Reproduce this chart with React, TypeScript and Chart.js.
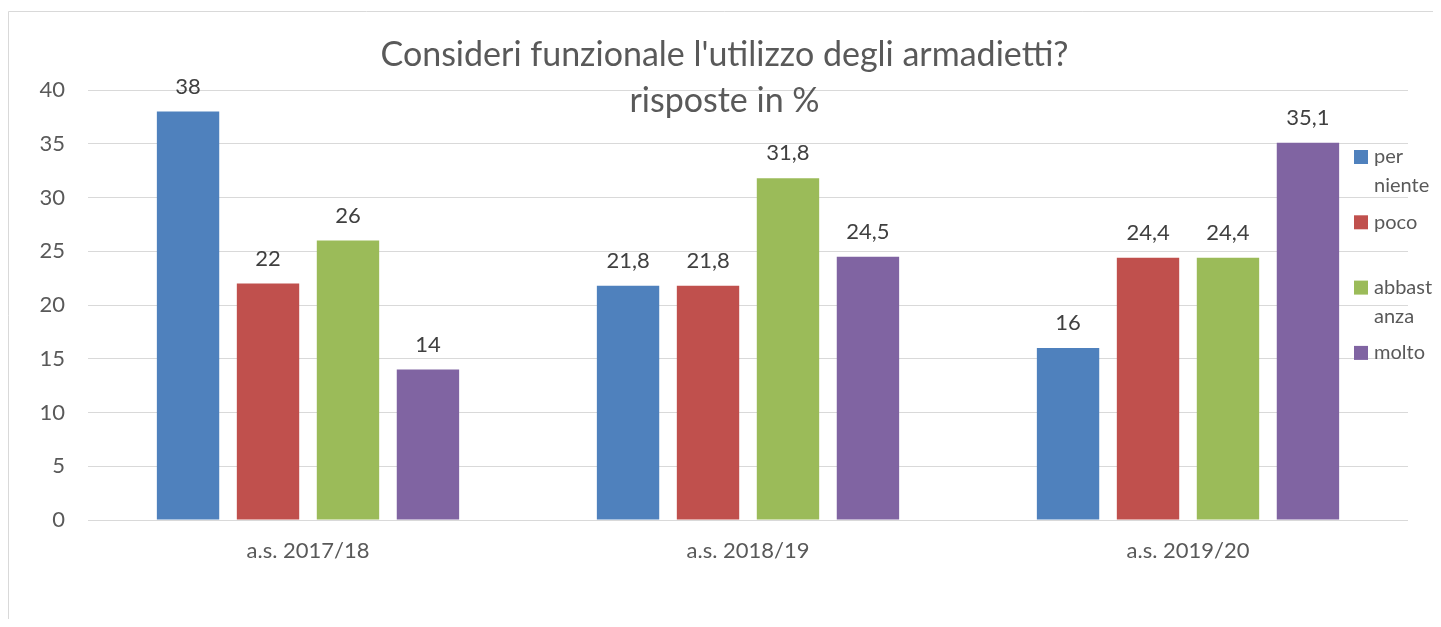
import React, { useEffect, useRef } from "react";
import { Chart, registerables } from "chart.js";

Chart.register(...registerables);

const categories = ["a.s. 2017/18", "a.s. 2018/19", "a.s. 2019/20"];
const seriesNames = ["per niente", "poco", "abbastanza", "molto"];
const perNiente = [38, 21.8, 16];
const poco = [22, 21.8, 24.4];
const abbastanza = [26, 31.8, 24.4];
const molto = [14, 24.5, 35.1];
const seriesValues = [perNiente, poco, abbastanza, molto];
const seriesColors = ["#4F81BD", "#C0504D", "#9BBB59", "#8064A2"];
const yMin = 0;
const yMax = 40;
const yStep = 5;
const titleLines = ["Consideri funzionale l'utilizzo degli armadietti?", "risposte in %"];

const FONT = "Lato, 'Open Sans', sans-serif";

function formatValue(v: number): string {
  return String(v).replace(".", ",");
}

function wrapLabel(text: string, maxChars: number): string[] {
  const words = text.split(" ");
  const lines: string[] = [];
  let cur = "";
  for (const w of words) {
    const parts: string[] = [];
    for (let i = 0; i < w.length; i += maxChars) parts.push(w.slice(i, i + maxChars));
    for (const p of parts) {
      if (cur === "") cur = p;
      else if ((cur + " " + p).length <= maxChars) cur = cur + " " + p;
      else {
        lines.push(cur);
        cur = p;
      }
    }
  }
  if (cur) lines.push(cur);
  return lines;
}

const framePlugin = {
  id: "frame",
  beforeDraw(chart: any) {
    const ctx = chart.ctx;
    ctx.save();
    ctx.fillStyle = "#ffffff";
    ctx.fillRect(0, 0, chart.width, chart.height);
    ctx.strokeStyle = "#d9d9d9";
    ctx.lineWidth = 1;
    ctx.beginPath();
    ctx.moveTo(0.5, chart.height);
    ctx.lineTo(0.5, 0.5);
    ctx.lineTo(chart.width, 0.5);
    ctx.stroke();
    ctx.restore();
  },
};

const titlePlugin = {
  id: "customTitle",
  afterDraw(chart: any) {
    const ctx = chart.ctx;
    ctx.save();
    ctx.fillStyle = "#595959";
    ctx.font = `34px ${FONT}`;
    ctx.textAlign = "center";
    ctx.textBaseline = "alphabetic";
    const cx = chart.width / 2;
    ctx.fillText(titleLines[0], cx, 55);
    ctx.fillText(titleLines[1], cx, 101);
    ctx.restore();
  },
};

const dataLabelPlugin = {
  id: "dataLabels",
  afterDatasetsDraw(chart: any) {
    const ctx = chart.ctx;
    ctx.save();
    ctx.fillStyle = "#404040";
    ctx.font = `22px ${FONT}`;
    ctx.textAlign = "center";
    ctx.textBaseline = "alphabetic";
    chart.data.datasets.forEach((ds: any, di: number) => {
      const meta = chart.getDatasetMeta(di);
      meta.data.forEach((bar: any, i: number) => {
        ctx.fillText(formatValue(ds.data[i]), bar.x, bar.y - 18);
      });
    });
    ctx.restore();
  },
};

const legendPlugin = {
  id: "customLegend",
  afterDraw(chart: any) {
    const ctx = chart.ctx;
    ctx.save();
    ctx.font = `20px ${FONT}`;
    ctx.textAlign = "left";
    ctx.textBaseline = "middle";
    const slotTop = 146;
    const slotStep = 65.3;
    const markerX = 1346;
    const textX = 1366;
    chart.data.datasets.forEach((ds: any, di: number) => {
      const y = slotTop + di * slotStep;
      ctx.fillStyle = ds.backgroundColor;
      ctx.fillRect(markerX, y - 7, 14, 14);
      ctx.fillStyle = "#595959";
      const lines = wrapLabel(ds.label, 6);
      lines.forEach((ln, li) => {
        ctx.fillText(ln, textX, y + li * 28.5);
      });
    });
    ctx.restore();
  },
};

export default function App() {
  const canvasRef = useRef<HTMLCanvasElement | null>(null);

  useEffect(() => {
    document.documentElement.style.overflow = "hidden";
    const canvas = canvasRef.current;
    if (!canvas) return;
    const chart = new Chart(canvas, {
      type: "bar",
      data: {
        labels: categories,
        datasets: seriesNames.map((name, i) => ({
          label: name,
          data: seriesValues[i],
          backgroundColor: seriesColors[i],
          borderWidth: 0,
          categoryPercentage: 0.727,
          barPercentage: 0.78,
        })),
      },
      options: {
        animation: false,
        responsive: true,
        maintainAspectRatio: false,
        layout: { padding: { left: 0, right: 33, top: 79, bottom: 49 } },
        plugins: {
          legend: { display: false },
          title: { display: false },
          tooltip: { enabled: false },
        },
        scales: {
          x: {
            grid: { display: false, drawTicks: false },
            border: { display: false },
            ticks: {
              color: "#595959",
              font: { family: FONT, size: 22 },
              padding: 18,
              maxRotation: 0,
            },
            afterFit(scale: any) {
              scale.height = 50;
            },
          },
          y: {
            min: yMin,
            max: yMax,
            grid: { color: "#d9d9d9", lineWidth: 1, drawTicks: false },
            border: { display: false },
            ticks: {
              stepSize: yStep,
              color: "#595959",
              font: { family: FONT, size: 22 },
              padding: 23,
            },
            afterFit(scale: any) {
              scale.width = 80;
            },
          },
        },
      },
      plugins: [framePlugin, dataLabelPlugin, titlePlugin, legendPlugin],
    });
    return () => chart.destroy();
  }, []);

  return (
    <div style={{ paddingTop: 3 }}>
      <div style={{ position: "relative", width: 1433, height: 608 }}>
        <canvas ref={canvasRef} />
      </div>
    </div>
  );
}
